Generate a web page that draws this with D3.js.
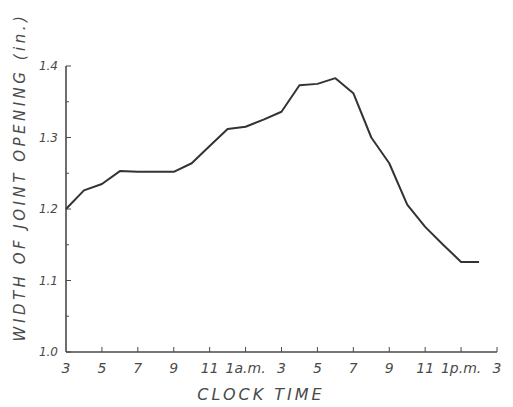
<!DOCTYPE html>
<html>
<head>
<meta charset="utf-8">
<script src="https://cdn.jsdelivr.net/npm/d3@7"></script>
<style>
  body { margin: 0; background: #fff; }
  text { font-family: "DejaVu Sans ExtraLight", "DejaVu Sans", sans-serif; font-weight: 200; font-style: italic; fill: #4a4a4a; }
</style>
</head>
<body>
<svg id="chart" width="513" height="407"></svg>
<script>
// hours after 3 p.m. and measured joint width (in.)
var hours  = [0, 1, 2, 3, 4, 5, 6, 7, 8, 9, 10, 11, 12, 13, 14, 15, 16, 17, 18, 19, 20, 21, 22, 23];
var widths = [1.200, 1.226, 1.235, 1.253, 1.252, 1.252, 1.252, 1.264, 1.288, 1.312, 1.315, 1.325, 1.336, 1.373, 1.375, 1.383, 1.362, 1.300, 1.264, 1.206, 1.175, 1.150, 1.126, 1.126];

var xTickHours  = [0, 2, 4, 6, 8, 10, 12, 14, 16, 18, 20, 22, 24];
var xTickLabels = ["3", "5", "7", "9", "11", "1a.m.", "3", "5", "7", "9", "11", "1p.m.", "3"];
var yTicks      = [1.0, 1.1, 1.2, 1.3, 1.4];
var yMinorTicks = [1.05, 1.15, 1.25, 1.35];

var svg = d3.select('#chart');

var x = d3.scaleLinear().domain([0, 24]).range([66, 497]);
var y = d3.scaleLinear().domain([1.0, 1.4]).range([352, 66]);

var ink = '#4a4a4a';

// axes lines
svg.append('line')
  .attr('x1', x(0)).attr('x2', x(0))
  .attr('y1', y(1.0)).attr('y2', y(1.4))
  .style('stroke', ink).style('stroke-width', '1.6px');

svg.append('line')
  .attr('x1', x(0)).attr('x2', x(24))
  .attr('y1', y(1.0)).attr('y2', y(1.0))
  .style('stroke', ink).style('stroke-width', '1.6px');

// y ticks (inward)
svg.selectAll('.ytick').data(yTicks).enter().append('line')
  .attr('x1', x(0)).attr('x2', x(0) + 5)
  .attr('y1', function(d){ return y(d); })
  .attr('y2', function(d){ return y(d); })
  .style('stroke', ink).style('stroke-width', '1px');

svg.selectAll('.yminor').data(yMinorTicks).enter().append('line')
  .attr('x1', x(0)).attr('x2', x(0) + 3)
  .attr('y1', function(d){ return y(d); })
  .attr('y2', function(d){ return y(d); })
  .style('stroke', ink).style('stroke-width', '1px');

svg.selectAll('.ylab').data(yTicks).enter().append('text')
  .text(function(d){ return d.toFixed(1); })
  .attr('x', x(0) - 8)
  .attr('y', function(d){ return y(d) + 4; })
  .attr('text-anchor', 'end')
  .style('font-size', '12px');

// x ticks (upward)
svg.selectAll('.xtick').data(xTickHours.slice(1)).enter().append('line')
  .attr('x1', function(d){ return x(d); })
  .attr('x2', function(d){ return x(d); })
  .attr('y1', y(1.0)).attr('y2', y(1.0) - 5)
  .style('stroke', ink).style('stroke-width', '1px');

svg.selectAll('.xlab').data(xTickHours).enter().append('text')
  .text(function(d, i){ return xTickLabels[i]; })
  .attr('x', function(d){ return x(d); })
  .attr('y', y(1.0) + 21)
  .attr('text-anchor', 'middle')
  .style('font-size', '14px');

// data line
var line = d3.line()
  .x(function(d){ return x(d); })
  .y(function(d, i){ return y(widths[i]); });

svg.append('path')
  .datum(hours)
  .attr('d', line)
  .style('fill', 'none')
  .style('stroke', '#333')
  .style('stroke-width', '2px')
  .style('stroke-linejoin', 'round');

// titles
svg.append('text')
  .text('CLOCK TIME')
  .attr('x', 261).attr('y', 400)
  .attr('text-anchor', 'middle')
  .style('font-size', '16px')
  .style('letter-spacing', '3px');

svg.append('text')
  .text('WIDTH OF JOINT OPENING (in.)')
  .attr('transform', 'translate(25,177) rotate(-90)')
  .attr('text-anchor', 'middle')
  .style('font-size', '15px')
  .style('letter-spacing', '3.5px');
</script>
</body>
</html>
